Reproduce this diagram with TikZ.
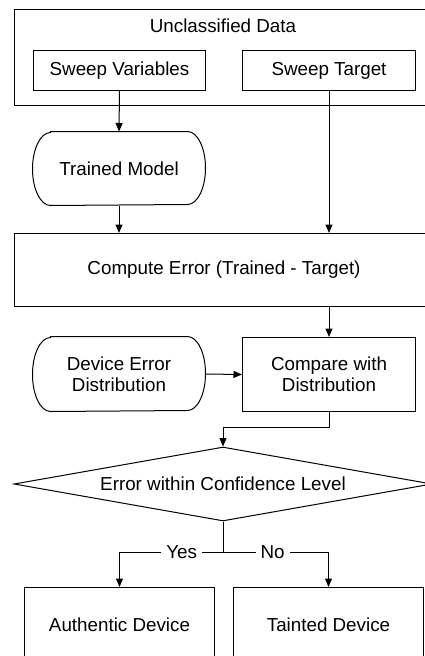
\documentclass[tikz,border=0pt]{standalone}
\usepackage{fontspec}
\setmainfont{Liberation Sans}
\usetikzlibrary{arrows.meta,shapes.geometric}
\begin{document}
\begin{tikzpicture}[x=1pt,y=-1pt, line width=1pt,
  font=\fontsize{18.8}{21}\selectfont,
  arr/.style={-{Triangle[length=8.5pt,width=7pt]}},
  box/.style={draw, inner sep=0pt, anchor=north west, align=center},
  stad/.style={inner sep=0pt, align=center, minimum width=172pt},
  lbl/.style={fill=white, inner sep=5pt}
]
\useasboundingbox (0,0) rectangle (425,656);
\clip (0,0) rectangle (425,656);

% top group
\node[box, minimum width=420pt, minimum height=96pt] (ud) at (14,9) {};
\node (udt) at (223,26) {Unclassified Data};
\node[box, minimum width=172pt, minimum height=40pt] (sv) at (33,50) {Sweep Variables};
\node[box, minimum width=173pt, minimum height=40pt] (st) at (242,50) {Sweep Target};

% trained model (stadium)
\node[stad, minimum height=73pt] (tm) at (119,168.5) {Trained Model};
\draw ([xshift=18pt]tm.north west) -- ([xshift=-18pt]tm.north east)
  arc[start angle=90, end angle=-90, x radius=18pt, y radius=36.5pt]
  -- ([xshift=18pt]tm.south west)
  arc[start angle=270, end angle=90, x radius=18pt, y radius=36.5pt] -- cycle;

% compute error
\node[box, minimum width=420pt, minimum height=73pt] (ce) at (14,233) {};
\node (cet) at (224,270) {Compute Error (Trained - Target)};

% device error distribution
\node[stad, minimum height=74pt] (de) at (119,374) {Device Error\\Distribution};
\draw ([xshift=18pt]de.north west) -- ([xshift=-18pt]de.north east)
  arc[start angle=90, end angle=-90, x radius=18pt, y radius=37pt]
  -- ([xshift=18pt]de.south west)
  arc[start angle=270, end angle=90, x radius=18pt, y radius=37pt] -- cycle;

\node[box, minimum width=173pt, minimum height=74pt] (cmp) at (242,337) {Compare with\\Distribution};

% decision
\node[draw, diamond, aspect=5.65, minimum width=418pt, minimum height=74pt, inner sep=0pt] (dec) at (223,484) {Error within Confidence Level};

% outcomes
\node[box, minimum width=190pt, minimum height=74pt] (auth) at (24,587) {Authentic Device};
\node[box, minimum width=190pt, minimum height=74pt] (taint) at (233,587) {Tainted Device};

\coordinate (split) at (223,552);

% connectors
\draw[arr] (sv.south) -- (tm.north);
\draw[arr] (tm.south) -- (tm.south |- ce.north);
\draw[arr] (st.south) -- (st.south |- ce.north);
\draw[arr] (cmp.north |- ce.south) -- (cmp.north);
\draw[arr] (de.east) -- (cmp.west);
\draw[arr] (cmp.south) -- ++(0,15) -| (dec.north);
\draw (dec.south) -- (split);
\draw[arr] (split) -- node[lbl, pos=0.4] {Yes} (auth.north |- split) -- (auth.north);
\draw[arr] (split) -- node[lbl, pos=0.47] {No} (taint.north |- split) -- (taint.north);
\end{tikzpicture}
\end{document}
